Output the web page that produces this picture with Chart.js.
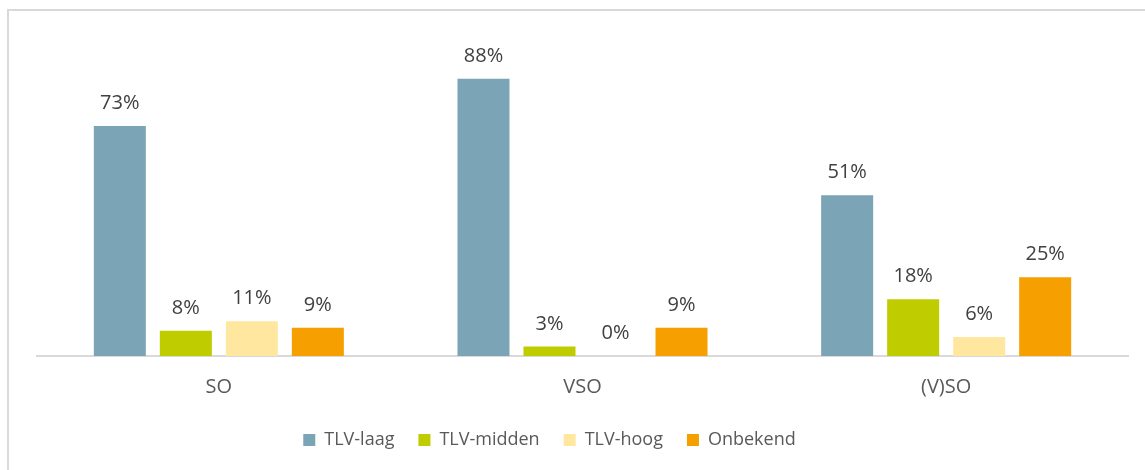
<!DOCTYPE html>
<html>
<head>
<meta charset="utf-8">
<script src="https://cdn.jsdelivr.net/npm/chart.js@4/dist/chart.umd.min.js"></script>
<style>
  html, body { margin: 0; padding: 0; background: #fff; overflow: hidden; }
  .frame { position: absolute; left: 7px; top: 9px; width: 1200px; height: 520px; border: 2px solid #d9d9d9; }
  .wrap { position: absolute; left: 0; top: 0; width: 1145px; height: 470px; }
</style>
</head>
<body>
<div class="frame"></div>
<div class="wrap"><canvas id="chart"></canvas></div>
<script>
const categories = ['SO', 'VSO', '(V)SO'];
const seriesNames = ['TLV-laag', 'TLV-midden', 'TLV-hoog', 'Onbekend'];
const tlvLaag = [73, 88, 51];
const tlvMidden = [8, 3, 18];
const tlvHoog = [11, 0, 6];
const onbekend = [9, 9, 25];
const seriesColors = ['#7ba4b6', '#bfcd00', '#ffe79f', '#f5a000'];

const FONT = "'Open Sans', sans-serif";

// value labels above each bar
const valueLabels = {
  id: 'valueLabels',
  afterDatasetsDraw(chart) {
    const { ctx } = chart;
    ctx.save();
    ctx.font = `20px ${FONT}`;
    ctx.fillStyle = '#404040';
    ctx.textAlign = 'center';
    ctx.textBaseline = 'alphabetic';
    chart.data.datasets.forEach((ds, i) => {
      chart.getDatasetMeta(i).data.forEach((bar, j) => {
        ctx.fillText(`${Math.round(ds.data[j])}%`, bar.x, bar.y - 17);
      });
    });
    ctx.restore();
  },
};

// legend sits a bit left of centre in the original
const legendShift = {
  id: 'legendShift',
  afterLayout(chart) {
    chart.legend.left -= 33;
    chart.legend.right -= 33;
  },
};

new Chart(document.getElementById('chart'), {
  type: 'bar',
  plugins: [valueLabels, legendShift],
  data: {
    labels: categories,
    datasets: [tlvLaag, tlvMidden, tlvHoog, onbekend].map((d, i) => ({
      label: seriesNames[i],
      data: d,
      backgroundColor: seriesColors[i],
      borderWidth: 0,
      categoryPercentage: 0.726,
      barPercentage: 0.788,
    })),
  },
  options: {
    responsive: true,
    maintainAspectRatio: false,
    animation: false,
    layout: { padding: { left: 37, right: 17, top: 41, bottom: 11 } },
    plugins: {
      legend: {
        position: 'bottom',
        labels: {
          font: { family: FONT, size: 18 },
          color: '#595959',
          boxWidth: 12,
          boxHeight: 12,
          padding: 24,
        },
      },
      tooltip: { enabled: false },
    },
    scales: {
      x: {
        grid: { display: false, drawTicks: false },
        border: { color: '#d9d9d9', width: 2 },
        ticks: { font: { family: FONT, size: 20 }, color: '#595959', padding: 19 },
        afterFit(scale) { scale.height = 51; },
      },
      y: {
        min: 0,
        max: 100,
        display: false,
      },
    },
  },
});
</script>
</body>
</html>
